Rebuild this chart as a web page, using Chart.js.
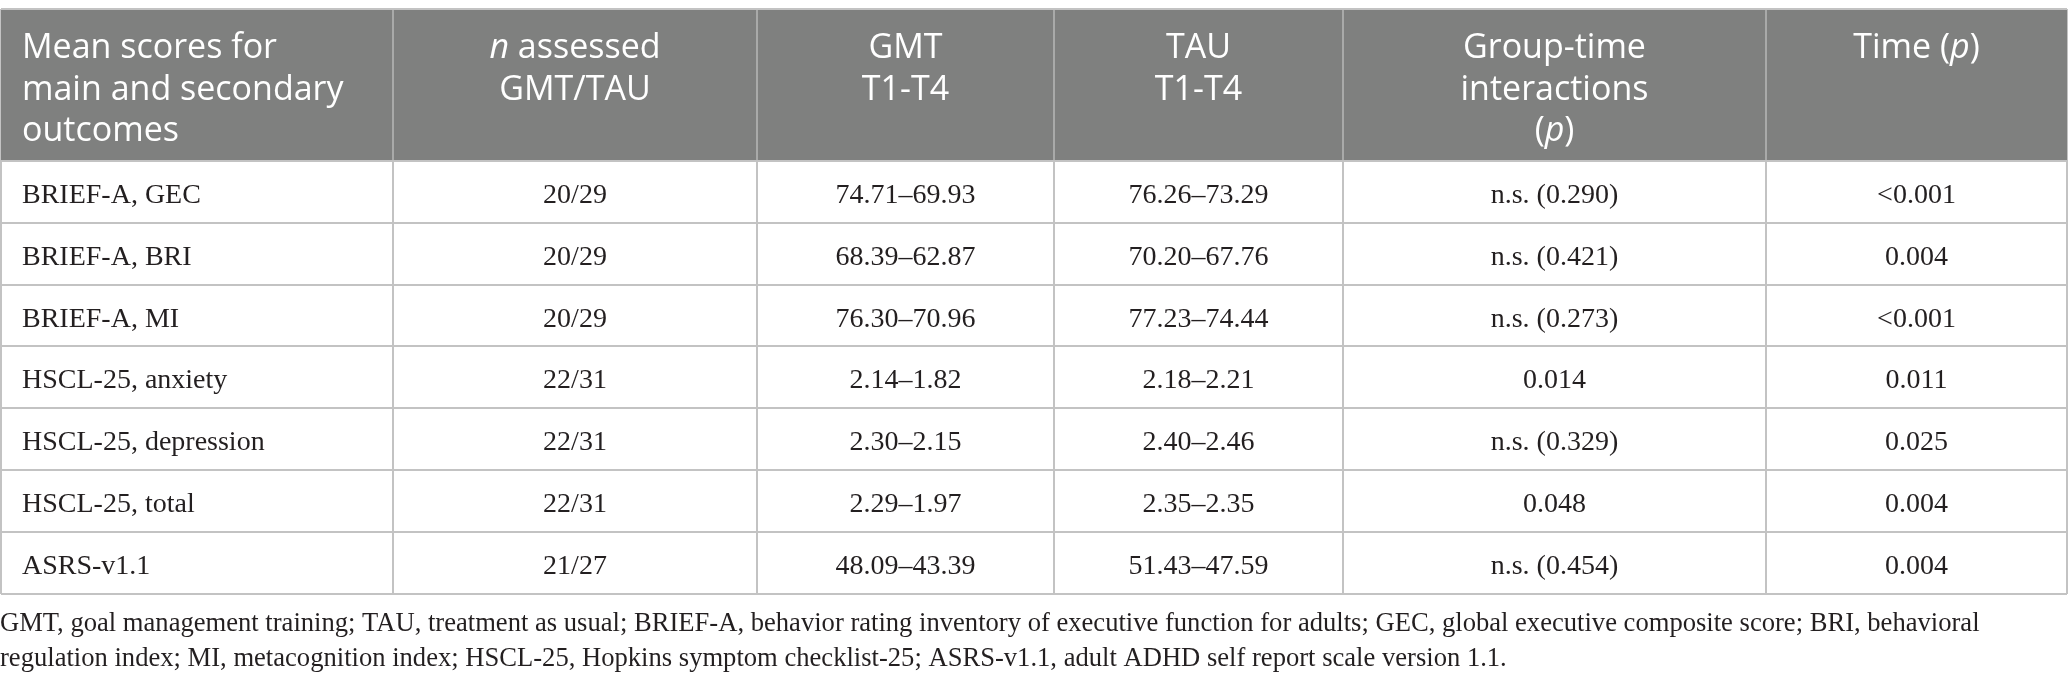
<!DOCTYPE html>
<html>
<head>
<meta charset="utf-8">
<script src="https://cdn.jsdelivr.net/npm/chart.js@4.4.1/dist/chart.umd.min.js"></script>
<style>
  html, body { margin: 0; padding: 0; background: #ffffff; }
  #wrap { width: 2068px; height: 684px; }
</style>
</head>
<body>
<div id="wrap"><canvas id="table" width="2068" height="684"></canvas></div>
<script>
// table content, "_x_" marks italic text
const columnHeaders = [
  ['Mean scores for', 'main and secondary', 'outcomes'],
  ['_n_ assessed', 'GMT/TAU'],
  ['GMT', 'T1-T4'],
  ['TAU', 'T1-T4'],
  ['Group-time', 'interactions', '(_p_)'],
  ['Time (_p_)']
];
const outcomes = ['BRIEF-A, GEC', 'BRIEF-A, BRI', 'BRIEF-A, MI', 'HSCL-25, anxiety', 'HSCL-25, depression', 'HSCL-25, total', 'ASRS-v1.1'];
const nAssessed = ['20/29', '20/29', '20/29', '22/31', '22/31', '22/31', '21/27'];
const gmtT1T4 = ['74.71–69.93', '68.39–62.87', '76.30–70.96', '2.14–1.82', '2.30–2.15', '2.29–1.97', '48.09–43.39'];
const tauT1T4 = ['76.26–73.29', '70.20–67.76', '77.23–74.44', '2.18–2.21', '2.40–2.46', '2.35–2.35', '51.43–47.59'];
const groupTimeP = ['n.s. (0.290)', 'n.s. (0.421)', 'n.s. (0.273)', '0.014', 'n.s. (0.329)', '0.048', 'n.s. (0.454)'];
const timeP = ['<0.001', '0.004', '<0.001', '0.011', '0.025', '0.004', '0.004'];
const footnote = [
  'GMT, goal management training; TAU, treatment as usual; BRIEF-A, behavior rating inventory of executive function for adults; GEC, global executive composite score; BRI, behavioral',
  'regulation index; MI, metacognition index; HSCL-25, Hopkins symptom checklist-25; ASRS-v1.1, adult ADHD self report scale version 1.1.'
];

// layout (scale units)
const colEdges = [0, 392, 756, 1053, 1342, 1765, 2066];
const headerH = 152;
const rowH = 61.8;
const rowEdges = [0, headerH];
outcomes.forEach((_, i) => rowEdges.push(headerH + rowH * (i + 1)));

const bodyColumns = [outcomes, nAssessed, gmtT1T4, tauT1T4, groupTimeP, timeP];

const headFont = "'Open Sans', 'Noto Sans', sans-serif";
const bodyFont = "'Liberation Serif', 'DejaVu Serif', serif";

function parseRich(str) {
  return str.split('_').map((t, i) => ({ t: t, italic: i % 2 === 1 })).filter(s => s.t.length);
}

function drawRich(ctx, str, x, y, align, size) {
  const segs = parseRich(str);
  let total = 0;
  segs.forEach(s => {
    ctx.font = (s.italic ? 'italic ' : '') + size + 'px ' + headFont;
    s.w = ctx.measureText(s.t).width;
    total += s.w;
  });
  let cx = align === 'center' ? x - total / 2 : x;
  ctx.textAlign = 'left';
  segs.forEach(s => {
    ctx.font = (s.italic ? 'italic ' : '') + size + 'px ' + headFont;
    ctx.fillText(s.t, cx, y);
    cx += s.w;
  });
}

const tablePlugin = {
  id: 'tablePlugin',
  beforeDatasetsDraw(chart) {
    const { ctx, scales: { x, y } } = chart;
    const left = x.getPixelForValue(colEdges[0]);
    const right = x.getPixelForValue(colEdges[colEdges.length - 1]);
    const top = y.getPixelForValue(0);
    const bottom = y.getPixelForValue(headerH);
    ctx.save();
    ctx.fillStyle = '#7f807f';
    ctx.fillRect(left, top + 1, right - left, bottom - top - 2);
    ctx.strokeStyle = '#a9aaa9';
    ctx.lineWidth = 2;
    colEdges.slice(1, -1).forEach(v => {
      const px = x.getPixelForValue(v);
      ctx.beginPath();
      ctx.moveTo(px, top + 1);
      ctx.lineTo(px, bottom - 1);
      ctx.stroke();
    });
    ctx.restore();
  },
  afterDraw(chart) {
    const { ctx, scales: { x, y } } = chart;
    ctx.save();
    // header text
    ctx.fillStyle = '#ffffff';
    ctx.textBaseline = 'alphabetic';
    columnHeaders.forEach((lines, c) => {
      const l = x.getPixelForValue(colEdges[c]);
      const r = x.getPixelForValue(colEdges[c + 1]);
      lines.forEach((line, k) => {
        const py = y.getPixelForValue(0) + 49 + k * 41.5;
        if (c === 0) drawRich(ctx, line, l + 21, py, 'left', 34);
        else drawRich(ctx, line, (l + r) / 2, py, 'center', 34);
      });
    });
    // body cells
    ctx.fillStyle = '#231f20';
    ctx.font = '28px ' + bodyFont;
    bodyColumns.forEach((values, c) => {
      const l = x.getPixelForValue(colEdges[c]);
      const r = x.getPixelForValue(colEdges[c + 1]);
      values.forEach((v, i) => {
        const py = y.getPixelForValue(headerH + rowH * (i + 0.5)) + 11;
        if (c === 0) {
          ctx.textAlign = 'left';
          ctx.fillText(v, l + 21, py);
        } else {
          ctx.textAlign = 'center';
          ctx.fillText(v, (l + r) / 2, py);
        }
      });
    });
    // footnote
    ctx.font = '26.6px ' + bodyFont;
    ctx.textAlign = 'left';
    const base = y.getPixelForValue(rowEdges[rowEdges.length - 1]);
    footnote.forEach((line, k) => {
      ctx.fillText(line, x.getPixelForValue(0) - 1, base + 37 + k * 35);
    });
    ctx.restore();
  }
};

const gridLine = {
  color: '#c3c3c3',
  lineWidth: 2,
  drawTicks: false
};

new Chart(document.getElementById('table'), {
  type: 'scatter',
  data: { datasets: [] },
  options: {
    responsive: false,
    devicePixelRatio: 1,
    animation: false,
    events: [],
    layout: { padding: { top: 9, bottom: 684 - 9 - rowEdges[rowEdges.length - 1], left: 1, right: 1 } },
    plugins: { legend: { display: false }, tooltip: { enabled: false } },
    scales: {
      x: {
        type: 'linear',
        min: colEdges[0],
        max: colEdges[colEdges.length - 1],
        afterBuildTicks: s => { s.ticks = colEdges.map(v => ({ value: v })); },
        ticks: { display: false },
        border: { display: false },
        grid: gridLine
      },
      y: {
        type: 'linear',
        reverse: true,
        min: rowEdges[0],
        max: rowEdges[rowEdges.length - 1],
        afterBuildTicks: s => { s.ticks = rowEdges.map(v => ({ value: v })); },
        ticks: { display: false },
        border: { display: false },
        grid: gridLine
      }
    }
  },
  plugins: [tablePlugin]
});
</script>
</body>
</html>
